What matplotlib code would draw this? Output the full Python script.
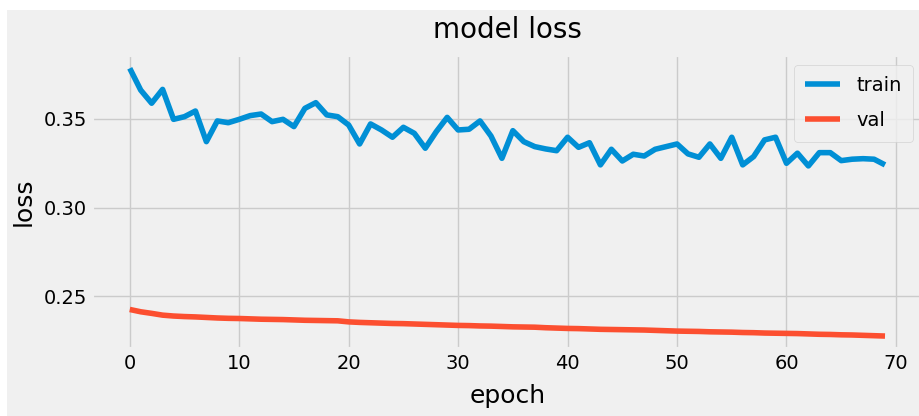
import matplotlib
matplotlib.use('Agg')
import matplotlib.pyplot as plt
from matplotlib.patches import Rectangle

# loss per epoch
train_loss = [0.3786, 0.3663, 0.3589, 0.3667, 0.3498, 0.3513, 0.3545, 0.3372, 0.3489, 0.3479,
              0.3498, 0.3519, 0.3528, 0.3485, 0.3498, 0.3457, 0.3560, 0.3592, 0.3523, 0.3513,
              0.3466, 0.3359, 0.3472, 0.3438, 0.3397, 0.3453, 0.3419, 0.3335, 0.3428, 0.3509,
              0.3438, 0.3442, 0.3489, 0.3404, 0.3278, 0.3434, 0.3372, 0.3344, 0.3331, 0.3321,
              0.3397, 0.3340, 0.3366, 0.3241, 0.3329, 0.3263, 0.3301, 0.3291, 0.3329, 0.3344,
              0.3359, 0.3303, 0.3284, 0.3359, 0.3278, 0.3397, 0.3241, 0.3288, 0.3382, 0.3397,
              0.3250, 0.3307, 0.3235, 0.3310, 0.3310, 0.3265, 0.3273, 0.3276, 0.3273, 0.3241]
val_loss = [0.2425, 0.2412, 0.2403, 0.2393, 0.2388, 0.2385, 0.2383, 0.2380, 0.2377, 0.2375,
            0.2374, 0.2372, 0.2370, 0.2369, 0.2368, 0.2366, 0.2364, 0.2363, 0.2362, 0.2361,
            0.2355, 0.2352, 0.2350, 0.2348, 0.2346, 0.2345, 0.2343, 0.2341, 0.2339, 0.2337,
            0.2335, 0.2334, 0.2332, 0.2331, 0.2329, 0.2327, 0.2326, 0.2325, 0.2322, 0.2320,
            0.2318, 0.2317, 0.2315, 0.2313, 0.2312, 0.2311, 0.2310, 0.2309, 0.2307, 0.2305,
            0.2303, 0.2302, 0.2301, 0.2299, 0.2298, 0.2297, 0.2295, 0.2294, 0.2292, 0.2291,
            0.2290, 0.2289, 0.2287, 0.2285, 0.2284, 0.2282, 0.2281, 0.2279, 0.2277, 0.2275]
x_ticks = [0, 10, 20, 30, 40, 50, 60, 70]
y_ticks = [0.25, 0.30, 0.35]

plt.style.use('fivethirtyeight')
plt.rcParams['font.family'] = ['DejaVu Sans']

fig = plt.figure(figsize=(9.19, 4.16), dpi=100, facecolor='white')
# grey panel, white strip at top and left like the screenshot
fig.patches.append(Rectangle((7 / 919, 0), 1, 1 - 10 / 416, transform=fig.transFigure,
                             facecolor='#f0f0f0', edgecolor='none', zorder=-10))

ax = fig.add_axes([0.1001, 0.160, 0.904, 0.708])
ax.plot(train_loss, label='train')
ax.plot(val_loss, label='val')

ax.set_title('model loss', fontsize=20, pad=12)
ax.set_xlabel('epoch', fontsize=18, labelpad=8)
ax.set_ylabel('loss', fontsize=18, labelpad=6)
ax.set_xticks(x_ticks)
ax.set_yticks(y_ticks)
ax.set_yticklabels(['%.2f' % v for v in y_ticks])
ax.tick_params(labelsize=14)
ax.legend(loc='upper right', fontsize=14, handlelength=1.8, labelspacing=0.8,
          borderpad=0.6)

fig.savefig('out.png', dpi=100, facecolor=fig.get_facecolor())
